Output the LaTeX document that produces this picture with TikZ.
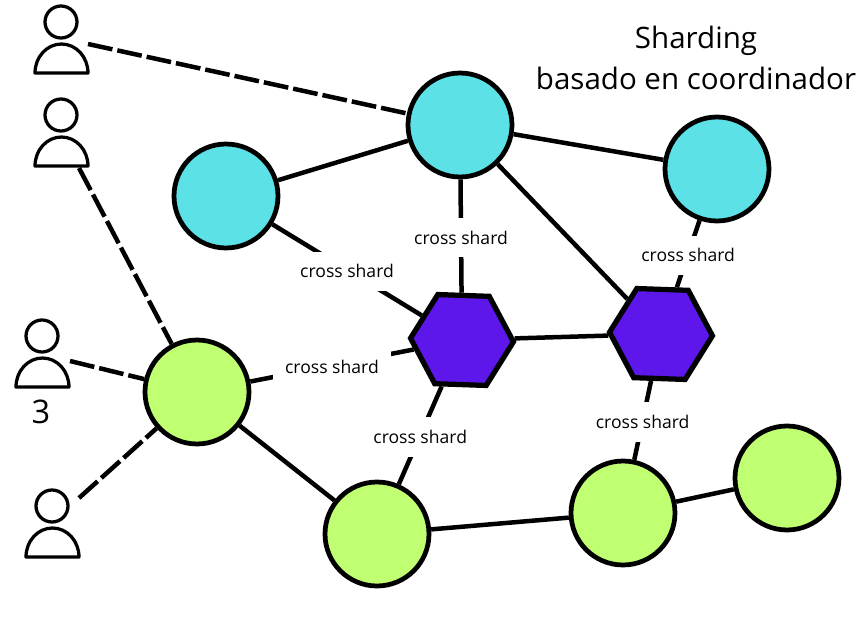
\documentclass[tikz,border=0pt]{standalone}
\usepackage{fontspec}
\setmainfont{Open Sans}
\usetikzlibrary{
    positioning,           % Relative positioning
    shapes.geometric       % Geometric shapes
}
\definecolor{shardcyan}{HTML}{5CE1E6}
\definecolor{shardgreen}{HTML}{C1FF72}
\definecolor{shardpurple}{HTML}{5E17EB}
\tikzset{
    shardnode/.style={circle,draw=black,line width=0.095cm,minimum size=2.08cm,inner sep=0pt},
    coordnode/.style={regular polygon,regular polygon sides=6,rotate=-2,draw=black,fill=shardpurple,
        line width=0.105cm,minimum size=2.06cm,inner sep=0pt},
    link/.style={line width=0.09cm},
    clientlink/.style={line width=0.09cm,dash pattern=on 0.5cm off 0.1cm},
    xshard/.style={midway,fill=white,inner xsep=0.24cm,inner ysep=0.26cm,yshift=-0.03cm,font=\fontsize{10}{12}\selectfont},
    usershape/.style={line width=0.065cm,line join=round},
    user/.pic={
        \draw[usershape] (0,0) circle(0.32cm);
        \draw[usershape] (-26,51) arc[start angle=180,end angle=0,x radius=0.53cm,y radius=0.58cm] -- cycle;
    }
}
\begin{document}
\begin{tikzpicture}[x=0.02cm,y=-0.02cm]
    \useasboundingbox (0,0) rectangle (867,639);
    \node[shardnode,fill=shardcyan] (cyanA) at (460,125) {};
    \node[shardnode,fill=shardcyan] (cyanB) at (226,196) {};
    \node[shardnode,fill=shardcyan] (cyanC) at (717,169) {};
    \node[shardnode,fill=shardgreen] (greenA) at (197,392) {};
    \node[shardnode,fill=shardgreen] (greenB) at (377,534) {};
    \node[shardnode,fill=shardgreen] (greenC) at (623,513) {};
    \node[shardnode,fill=shardgreen] (greenD) at (787,478) {};
    \node[coordnode] (hexA) at (462,340) {};
    \node[coordnode] (hexB) at (661,334) {};

    \pic at (61,22) {user};
    \pic at (61,115) {user};
    \pic at (42,336) {user};
    \pic at (52,506) {user};
    \coordinate (userA) at (88,44);
    \coordinate (userB) at (79,168);
    \coordinate (userC) at (70,361);
    \coordinate (userD) at (79,498);
    \node[font=\fontsize{18.5}{20}\selectfont] (three) at (41,412) {3};

    \node[align=center,font=\fontsize{16.8}{23.3}\selectfont] (title) at (696,58) {Sharding\\basado en coordinador};

    \draw[clientlink] (userA) -- (cyanA);
    \draw[clientlink] (userB) -- (greenA);
    \draw[clientlink] (userC) -- (greenA);
    \draw[clientlink] (userD) -- (greenA);

    \draw[link] (cyanB) -- (cyanA);
    \draw[link] (cyanA) -- (cyanC);
    \draw[link] (cyanA) -- (hexB);
    \draw[link] (hexA) -- (hexB);
    \draw[link] (greenA) -- (greenB);
    \draw[link] (greenB) -- (greenC);
    \draw[link] (greenC) -- (greenD);

    \draw[link] (cyanA) -- node[xshard] {cross shard} (hexA);
    \draw[link] (cyanB) -- node[xshard] {cross shard} (hexA);
    \draw[link] (greenA) -- node[xshard] {cross shard} (hexA);
    \draw[link] (hexA) -- node[xshard] {cross shard} (greenB);
    \draw[link] (cyanC) -- node[xshard] {cross shard} (hexB);
    \draw[link] (hexB) -- node[xshard] {cross shard} (greenC);
\end{tikzpicture}
\end{document}
